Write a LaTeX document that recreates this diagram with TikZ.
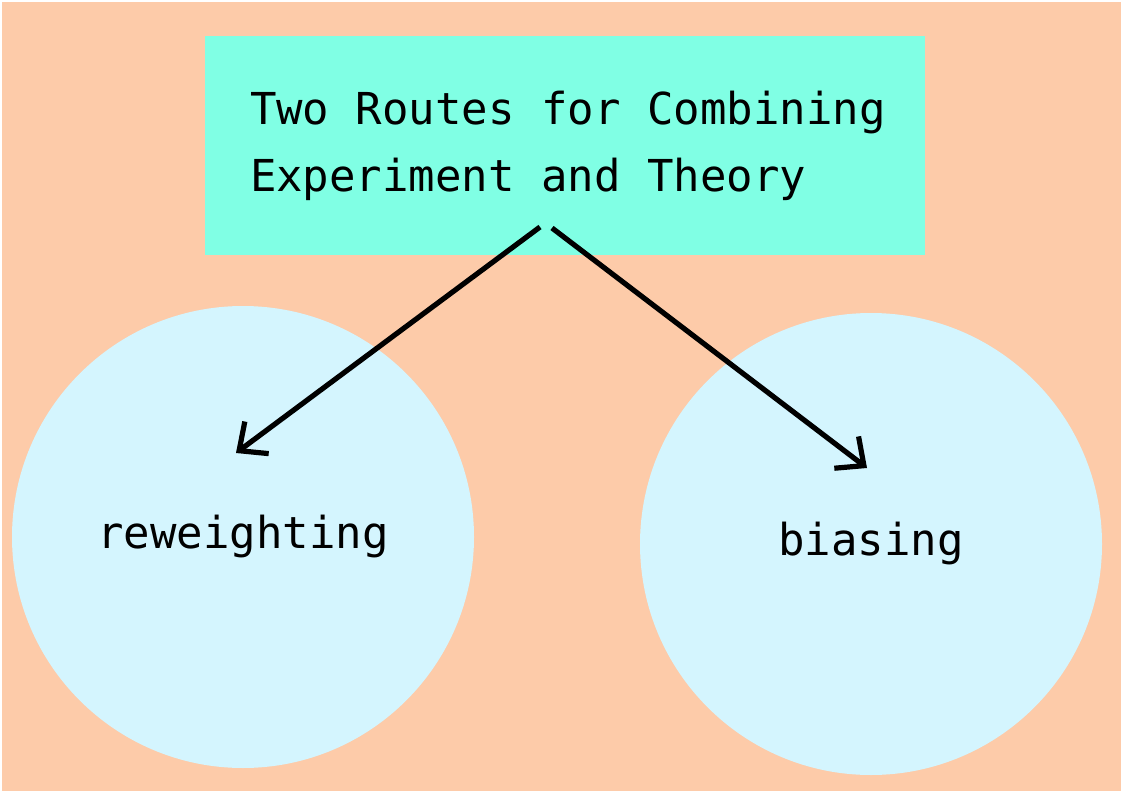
\documentclass[tikz,border=0pt]{standalone}
\usepackage{fontspec}
\setmonofont{DejaVu Sans Mono}
\usetikzlibrary{arrows.meta}
\definecolor{peach}{HTML}{FDCBA9}
\definecolor{aqua}{HTML}{80FFE4}
\definecolor{pale}{HTML}{D4F5FE}
\newcommand\msp{\hspace{0.602em}}
\tikzset{
  lbl/.style={font=\ttfamily\fontsize{44}{67}\selectfont, text=black},
  titlebox/.style={lbl, fill=aqua, draw=none, rectangle, minimum width=720pt, minimum height=219pt, inner xsep=0pt, text width=630pt, align=left},
  route/.style={lbl, fill=pale, draw=none, circle, minimum size=462pt, inner sep=0pt},
  conn/.style={line width=5.2pt, -{Straight Barb[length=22pt,width=40pt,line width=5.2pt]}}
}
\begin{document}
\begin{tikzpicture}[x=1pt,y=-1pt]
\useasboundingbox (0,0) rectangle (1123,794);
\fill[white] (0,0) rectangle (1123,794);
\fill[peach] (2,2) rectangle (1121,791);
\node[titlebox] (title) at (565,145.5) {\mbox{Two\msp Routes\msp for\msp Combining}\\\mbox{Experiment\msp and\msp Theory}};
\node[route] (rew) at (243,537) {reweighting};
\node[route] (bias) at (871,544) {biasing};
\coordinate (s1) at (540,227);
\coordinate (e1) at (236,453);
\coordinate (s2) at (552,228);
\coordinate (e2) at (867,468);
\draw[conn] (s1) -- (e1);
\draw[conn] (s2) -- (e2);
\end{tikzpicture}
\end{document}
